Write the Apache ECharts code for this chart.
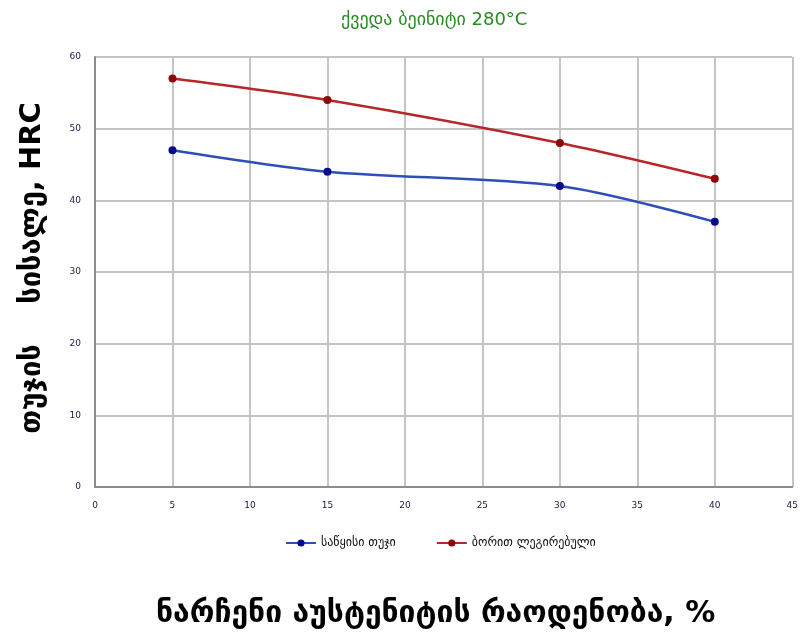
<!DOCTYPE html>
<html>
<head>
<meta charset="utf-8">
<script src="https://cdn.jsdelivr.net/npm/echarts@6/dist/echarts.min.js"></script>
<style>
  html, body { margin: 0; padding: 0; background: #ffffff; }
  #chart { width: 801px; height: 636px; }
</style>
</head>
<body>
<div id="chart"></div>
<script>
// Retained austenite content (%) and cast-iron hardness (HRC)
const austenite = [5, 15, 30, 40];
const baseIron = [47, 44, 42, 37];
const boronAlloyed = [57, 54, 48, 43];
const seriesNames = ['საწყისი თუჯი', 'ბორით ლეგირებული'];
const titleText = 'ქვედა ბეინიტი 280°C';
const xName = 'ნარჩენი აუსტენიტის რაოდენობა, %';
const yName = 'თუჯის    სისალე, HRC';

const font = '"DejaVu Sans", "Noto Sans", sans-serif';

function pairs(xs, ys) {
  return xs.map((x, i) => [x, ys[i]]);
}

const chart = echarts.init(document.getElementById('chart'));
chart.setOption({
  animation: false,
  backgroundColor: '#ffffff',
  title: {
    text: titleText,
    left: 336,
    top: 6,
    textStyle: { color: '#2a8a22', fontSize: 18, fontWeight: 'normal', fontFamily: font }
  },
  grid: { left: 95, right: 6, top: 57, bottom: 149 },
  legend: {
    bottom: 82,
    left: 280,
    itemWidth: 30,
    itemHeight: 9,
    itemGap: 40,
    textStyle: { fontSize: 12, color: '#111', fontFamily: font },
    data: seriesNames
  },
  xAxis: {
    type: 'value',
    min: 0,
    max: 45,
    interval: 5,
    name: xName,
    nameLocation: 'middle',
    nameGap: 112,
    nameTextStyle: { fontSize: 30, fontWeight: 'bold', color: '#000', fontFamily: font, padding: [0, 16, 0, 0] },
    axisLine: { lineStyle: { color: '#8c8c8c', width: 2 } },
    axisTick: { show: false },
    axisLabel: { fontSize: 9, color: '#1a1a40', margin: 14, fontFamily: font },
    splitLine: { show: true, lineStyle: { color: '#c4c4c4', width: 2 } }
  },
  yAxis: {
    type: 'value',
    min: 0,
    max: 60,
    interval: 10,
    name: yName,
    nameLocation: 'middle',
    nameGap: 48,
    nameTextStyle: { fontSize: 29, fontWeight: 'bold', color: '#000', fontFamily: font, padding: [0, 0, 0, 8] },
    axisLine: { show: true, lineStyle: { color: '#8c8c8c', width: 2 } },
    axisTick: { show: false },
    axisLabel: { fontSize: 9, color: '#1a1a40', margin: 14, fontFamily: font },
    splitLine: { show: true, lineStyle: { color: '#c4c4c4', width: 2 } }
  },
  series: [
    {
      name: seriesNames[0],
      type: 'line',
      smooth: 0.3,
      data: pairs(austenite, baseIron),
      symbol: 'circle',
      symbolSize: 8,
      lineStyle: { color: '#2d4fb8', width: 2.5 },
      itemStyle: { color: '#0a0a8c' }
    },
    {
      name: seriesNames[1],
      type: 'line',
      smooth: 0.3,
      data: pairs(austenite, boronAlloyed),
      symbol: 'circle',
      symbolSize: 8,
      lineStyle: { color: '#b8262a', width: 2.5 },
      itemStyle: { color: '#8b0a0a' }
    }
  ]
});
</script>
</body>
</html>
